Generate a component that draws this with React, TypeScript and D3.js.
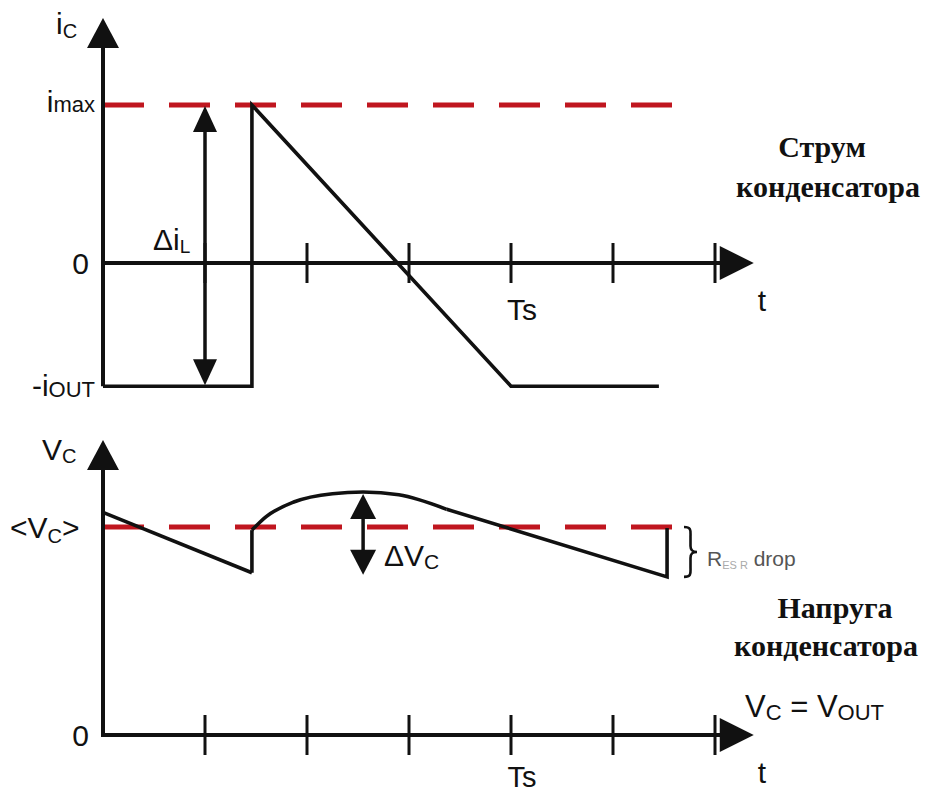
import React from "react";
import * as d3 from "d3";

// Time axis: tick positions in switching sub-intervals, Ts at the 4th tick
const tickSteps = [1, 2, 3, 4, 5, 6];
const tsTick = 4;

// Capacitor current (normalised to i_max)
const iMax = 1;
const iOut = 0.78;
const currentT = [0, 1.46, 1.46, 4, 5.45];
const currentI = [-0.78, -0.78, 1, -0.78, -0.78];

// Capacitor voltage (normalised to <V_C>)
const vAvg = 1;
const rampT = [0, 1.46];
const rampV = [1.07, 0.78];
const arcT = [1.46, 1.6, 1.87, 2.25, 2.55, 2.9, 3.37];
const arcV = [0.985, 1.05, 1.12, 1.16, 1.168, 1.155, 1.085];
const tailT = [3.37, 5.53, 5.53];
const tailV = [1.085, 0.76, 0.995];
const deltaVBottom = 0.77;
const deltaVAt = 2.55;

const SANS = "'Liberation Sans', Arial, sans-serif";
const SERIF = "'Liberation Serif', 'Times New Roman', serif";
const RED = "#c0161f";
const INK = "#111";

function arrowHead(tx: number, ty: number, dir: "up" | "down" | "right", len: number, hw: number) {
  if (dir === "up") return `M${tx},${ty} L${tx - hw},${ty + len} L${tx + hw},${ty + len} Z`;
  if (dir === "down") return `M${tx},${ty} L${tx - hw},${ty - len} L${tx + hw},${ty - len} Z`;
  return `M${tx},${ty} L${tx - len},${ty - hw} L${tx - len},${ty + hw} Z`;
}

function bracePath(x: number, y0: number, y1: number, w: number) {
  const ym = (y0 + y1) / 2;
  return `M${x},${y0} C${x + w * 0.6},${y0} ${x + w * 0.5},${y0 + 4} ${x + w * 0.5},${y0 + 10}
    L${x + w * 0.5},${ym - 6} C${x + w * 0.5},${ym - 1} ${x + w * 0.7},${ym} ${x + w},${ym}
    C${x + w * 0.7},${ym} ${x + w * 0.5},${ym + 1} ${x + w * 0.5},${ym + 6}
    L${x + w * 0.5},${y1 - 10} C${x + w * 0.5},${y1 - 4} ${x + w * 0.6},${y1} ${x},${y1}`;
}

export default function App() {
  const x = d3.scaleLinear().domain([0, 6]).range([103, 715]);
  const yI = d3.scaleLinear().domain([0, 1]).range([263, 105]);
  const yV = d3.scaleLinear().domain([0, 1]).range([735, 527]);

  const tEnd = 6.38;
  const dashEnd = 5.63;

  const lineI = d3
    .line<number>()
    .x((_, k) => x(currentT[k]))
    .y((v) => yI(v));
  const lineV = (ts: number[]) =>
    d3
      .line<number>()
      .x((_, k) => x(ts[k]))
      .y((v) => yV(v));
  const arcLine = d3
    .line<number>()
    .x((_, k) => x(arcT[k]))
    .y((v) => yV(v))
    .curve(d3.curveMonotoneX);

  const axisW = 4;
  const waveW = 3.6;

  const x0 = x(0);
  const xTs = x(tsTick);

  const iAxisY = yI(0);
  const vAxisY = yV(0);

  const ticks = (y: number) =>
    tickSteps.map((t) => (
      <line key={t} x1={x(t)} x2={x(t)} y1={y - 20} y2={y + 20} stroke={INK} strokeWidth={3} />
    ));

  const lab = { fontFamily: SANS, fill: INK } as const;

  return (
    <svg
      width={934}
      height={796}
      viewBox="0 0 934 796"
      style={{ position: "absolute", left: 0, top: 0, background: "#fff" }}
    >
      <rect width={934} height={796} fill="#fff" />

      {/* ---------- Capacitor current ---------- */}
      <line x1={x0} x2={x(dashEnd)} y1={yI(iMax)} y2={yI(iMax)} stroke={RED} strokeWidth={5} strokeDasharray="41 25" />
      <line x1={x0} x2={x0} y1={yI(1.55) + 20} y2={yI(-iOut)} stroke={INK} strokeWidth={axisW} />
      <path d={arrowHead(x0, yI(1.55), "up", 30, 16)} fill={INK} />
      <line x1={x0} x2={x(tEnd) - 20} y1={iAxisY} y2={iAxisY} stroke={INK} strokeWidth={axisW} />
      <path d={arrowHead(x(tEnd), iAxisY, "right", 34, 17)} fill={INK} />
      {ticks(iAxisY)}

      <path d={lineI(currentI) ?? ""} fill="none" stroke={INK} strokeWidth={waveW} strokeLinejoin="miter" />

      {/* Δi_L double arrow */}
      <line x1={x(1)} x2={x(1)} y1={yI(iMax) + 20} y2={yI(-iOut) - 20} stroke={INK} strokeWidth={3.5} />
      <path d={arrowHead(x(1), yI(iMax) + 1, "up", 26, 12)} fill={INK} />
      <path d={arrowHead(x(1), yI(-iOut) - 1, "down", 26, 12)} fill={INK} />

      <text x={56} y={34} {...lab} fontSize={30}>
        i<tspan fontSize={20} dy={4}>C</tspan>
      </text>
      <text x={95} y={112} {...lab} fontSize={30} textAnchor="end">
        i<tspan fontSize={22} dy={0}>max</tspan>
      </text>
      <text x={89} y={iAxisY + 11} {...lab} fontSize={30} textAnchor="end">0</text>
      <text x={95} y={396} {...lab} fontSize={30} textAnchor="end">
        -i<tspan fontSize={22} dy={1}>OUT</tspan>
      </text>
      <text x={153} y={250} {...lab} fontSize={30}>
        Δi<tspan fontSize={19} dy={3}>L</tspan>
      </text>
      <text x={xTs + 11} y={iAxisY + 57} {...lab} fontSize={30} textAnchor="middle">Ts</text>
      <text x={762} y={iAxisY + 48} {...lab} fontSize={30} textAnchor="middle">t</text>

      <text x={822} y={157} fontFamily={SERIF} fontWeight="bold" fontSize={30} fill={INK} textAnchor="middle">Струм</text>
      <text x={828} y={197} fontFamily={SERIF} fontWeight="bold" fontSize={30} fill={INK} textAnchor="middle">конденсатора</text>

      {/* ---------- Capacitor voltage ---------- */}
      <line x1={x0} x2={x(dashEnd)} y1={yV(vAvg)} y2={yV(vAvg)} stroke={RED} strokeWidth={5} strokeDasharray="41 25" />
      <line x1={x0} x2={x0} y1={yV(1.418) + 20} y2={vAxisY} stroke={INK} strokeWidth={axisW} />
      <path d={arrowHead(x0, yV(1.418), "up", 30, 16)} fill={INK} />
      <line x1={x0 - 2} x2={x(tEnd) - 20} y1={vAxisY} y2={vAxisY} stroke={INK} strokeWidth={axisW} />
      <path d={arrowHead(x(tEnd), vAxisY, "right", 34, 17)} fill={INK} />
      {ticks(vAxisY)}

      <path d={lineV(rampT)(rampV) ?? ""} fill="none" stroke={INK} strokeWidth={waveW} />
      <line x1={x(rampT[1])} x2={x(arcT[0])} y1={yV(rampV[1])} y2={yV(arcV[0])} stroke={INK} strokeWidth={waveW} />
      <path d={arcLine(arcV) ?? ""} fill="none" stroke={INK} strokeWidth={waveW} />
      <path d={lineV(tailT)(tailV) ?? ""} fill="none" stroke={INK} strokeWidth={waveW} />

      {/* ΔV_C double arrow */}
      <line x1={x(deltaVAt)} x2={x(deltaVAt)} y1={yV(arcV[4]) + 20} y2={yV(deltaVBottom) - 20} stroke={INK} strokeWidth={3.5} />
      <path d={arrowHead(x(deltaVAt), yV(arcV[4]) + 2, "up", 25, 13)} fill={INK} />
      <path d={arrowHead(x(deltaVAt), yV(deltaVBottom), "down", 25, 13)} fill={INK} />

      <text x={42} y={460} {...lab} fontSize={30}>
        V<tspan fontSize={20} dy={3}>C</tspan>
      </text>
      <text x={10} y={538} {...lab} fontSize={30}>
        &lt;V<tspan fontSize={20} dy={5}>C</tspan><tspan dy={-5}>&gt;</tspan>
      </text>
      <text x={89} y={vAxisY + 11} {...lab} fontSize={30} textAnchor="end">0</text>
      <text x={384} y={566} {...lab} fontSize={30}>
        ΔV<tspan fontSize={21} dy={3}>C</tspan>
      </text>
      <text x={xTs + 11} y={vAxisY + 52} {...lab} fontSize={29} textAnchor="middle">Ts</text>
      <text x={762} y={vAxisY + 48} {...lab} fontSize={30} textAnchor="middle">t</text>

      {/* ESR step */}
      <path d={bracePath(684, yV(1.0), yV(0.76), 13)} fill="none" stroke={INK} strokeWidth={2.6} />
      <text x={707} y={566} fontFamily={SANS} fontSize={21} fill="#555">
        R<tspan fontSize={11} fill="#aaa" dy={3}>ES R</tspan><tspan dy={-3}> drop</tspan>
      </text>

      <text x={835} y={618} fontFamily={SERIF} fontWeight="bold" fontSize={30} fill={INK} textAnchor="middle">Напруга</text>
      <text x={826} y={656} fontFamily={SERIF} fontWeight="bold" fontSize={30} fill={INK} textAnchor="middle">конденсатора</text>

      <text x={745} y={717} {...lab} fontSize={31}>
        V<tspan fontSize={22} dy={3}>C</tspan><tspan dy={-3}> = V</tspan><tspan fontSize={22} dy={3}>OUT</tspan>
      </text>
    </svg>
  );
}
